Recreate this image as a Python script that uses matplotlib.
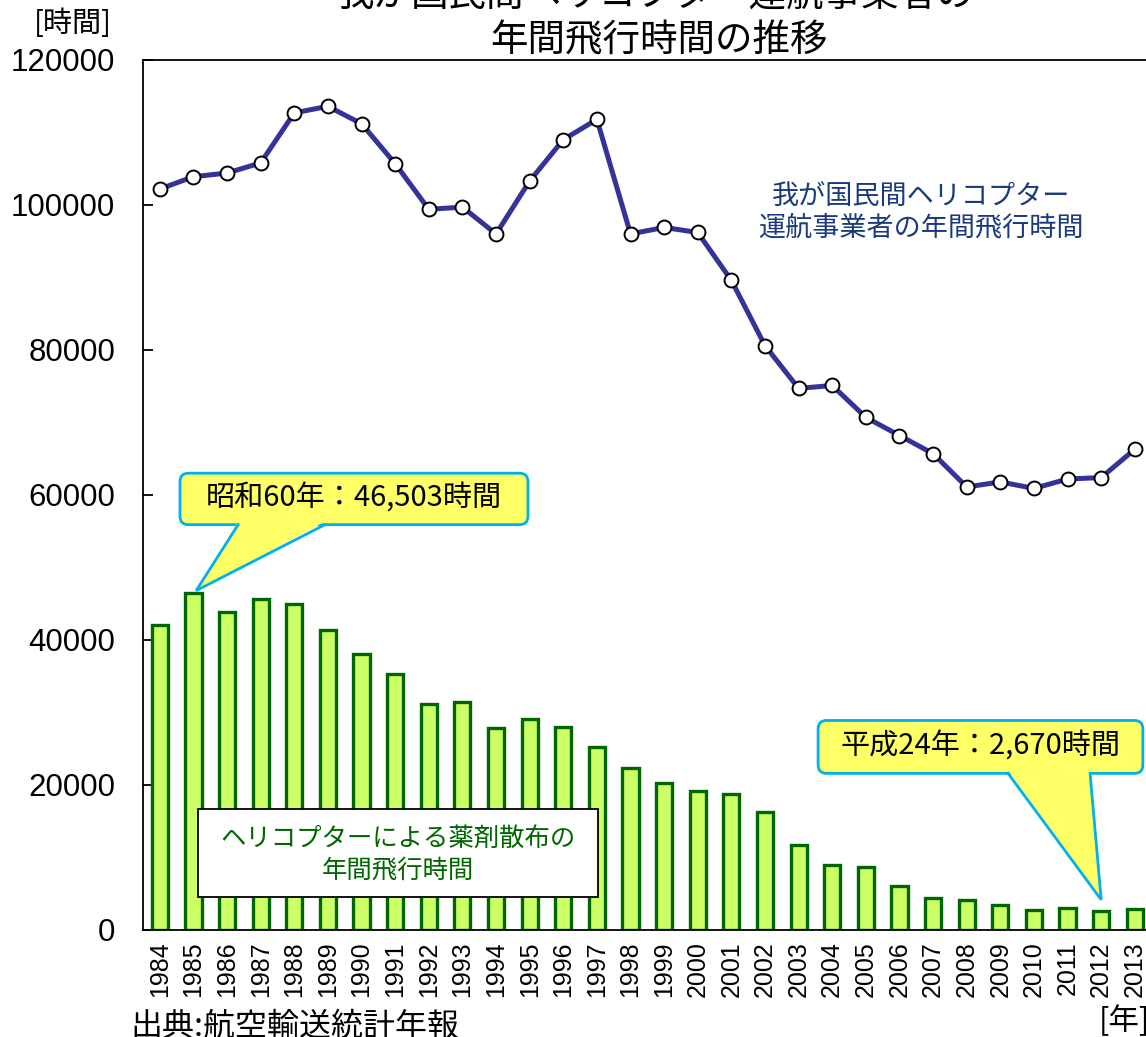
import numpy as np
import matplotlib
matplotlib.use("Agg")
import matplotlib.pyplot as plt
from matplotlib.patches import FancyBboxPatch, Polygon, Rectangle

plt.rcParams['font.family'] = ['Noto Sans CJK JP', 'DejaVu Sans']

# data
years = [str(y) for y in range(1984, 2014)]

# 我が国民間ヘリコプター運航事業者の年間飛行時間 [時間]
total_hours = [102200, 103900, 104400, 105800, 112700, 113600, 111200, 105700,
               99400, 99700, 96000, 103300, 109000, 111800, 96000, 96900,
               96200, 89600, 80600, 74700, 75100, 70700, 68200, 65700,
               61100, 61800, 60900, 62200, 62400, 66300]

# ヘリコプターによる薬剤散布の年間飛行時間 [時間]
spray_hours = [42100, 46503, 43900, 45600, 44900, 41400, 38000, 35300,
               31100, 31500, 27900, 29100, 28000, 25200, 22300, 20300,
               19200, 18800, 16300, 11750, 9000, 8700, 6100, 4400,
               4100, 3400, 2800, 3000, 2670, 2900]

title_lines = ['我が国民間ヘリコプター運航事業者の', '年間飛行時間の推移']
line_label = '我が国民間ヘリコプター\n運航事業者の年間飛行時間'
bar_label = 'ヘリコプターによる薬剤散布の\n年間飛行時間'
peak_note = '昭和60年：46,503時間'
last_note = '平成24年：2,670時間'


def callout(ax, text, box, tip, base, aspect):
    """Yellow speech-bubble with a triangular tail (data coords)."""
    x0, y0, x1, y1 = box
    bb = FancyBboxPatch((x0, y0), x1 - x0, y1 - y0,
                        boxstyle='round,pad=0,rounding_size=0.25',
                        mutation_aspect=aspect, fc='#FFFF66', ec='#00B0F0',
                        lw=2.0, zorder=6, clip_on=False)
    ax.add_patch(bb)
    eps = (y1 - y0) * 0.06
    tail = Polygon([(base[0], y0 + eps), (base[1], y0 + eps), tip],
                   closed=True, fc='#FFFF66', ec='none', zorder=7, clip_on=False)
    ax.add_patch(tail)
    ax.plot([base[0], tip[0], base[1]], [y0, tip[1], y0], color='#00B0F0',
            lw=2.0, zorder=8, clip_on=False, solid_joinstyle='miter')
    ax.text((x0 + x1) / 2, (y0 + y1) / 2, text, ha='center', va='center',
            fontsize=21, color='black', zorder=9)


fig = plt.figure(figsize=(11.46, 10.37), dpi=100)
ax = fig.add_axes([0.1248, 0.1032, 0.8801, 0.8390])

x = np.arange(len(years))
ax.bar(x, spray_hours, width=0.48, color='#CCFF66', edgecolor='#006600',
       linewidth=2.4, zorder=2)
ax.plot(x, total_hours, color='#333399', lw=3.6, marker='o', ms=10,
        mfc='white', mec='black', mew=1.4, zorder=3)

ax.set_xlim(-0.5, 29.5)
ax.set_ylim(0, 120000)
ax.set_yticks(range(0, 120001, 20000))
ax.yaxis.set_major_formatter(lambda v, p: f'{int(v)}')
ax.set_xticks(x)
ax.set_xticklabels(years, rotation=90, fontsize=18, family='Liberation Sans')
for lab in ax.get_yticklabels():
    lab.set_fontfamily('Liberation Sans')
ax.tick_params(axis='y', direction='in', length=7, width=1.3, labelsize=22.5, pad=20)
ax.tick_params(axis='x', length=0, pad=8)
for sp in ax.spines.values():
    sp.set_linewidth(1.3)
    sp.set_color('black')

# aspect between y and x data units per pixel for round corners
px_w = ax.get_position().width * fig.get_figwidth() * fig.dpi
px_h = ax.get_position().height * fig.get_figheight() * fig.dpi
aspect = (120000 / px_h) / (30 / px_w)

callout(ax, peak_note, (0.60, 55900, 10.95, 63000),
        (1 + 0.08, spray_hours[1] + 300), (2.33, 4.91), aspect)
callout(ax, last_note, (19.58, 21600, 29.24, 28900),
        (28, spray_hours[28] + 1500), (25.23, 27.67), aspect)

# series labels
ax.text(22.64, 99000, line_label, ha='center', va='center', fontsize=19.5,
        color='#1A3A80', linespacing=1.25, zorder=5)
ax.add_patch(Rectangle((1.14, 4550), 11.89, 12140, fc='white', ec='black',
                       lw=1.3, zorder=5))
ax.text(7.08, 10350, bar_label, ha='center', va='center', fontsize=18.3,
        color='#006600', linespacing=1.3, zorder=6)

# title and axis units
fig.text(0.572, 1.004, title_lines[0], ha='center', va='center', fontsize=27)
fig.text(0.575, 0.961, title_lines[1], ha='center', va='center', fontsize=27)
fig.text(0.098, 0.977, '[時間]', ha='right', va='center', fontsize=21)
fig.text(0.114, 0.010, '出典:航空輸送統計年報', ha='left', va='center', fontsize=23)
fig.text(0.959, 0.015, '[年]', ha='left', va='center', fontsize=22)

fig.savefig('out.png', dpi=100)
